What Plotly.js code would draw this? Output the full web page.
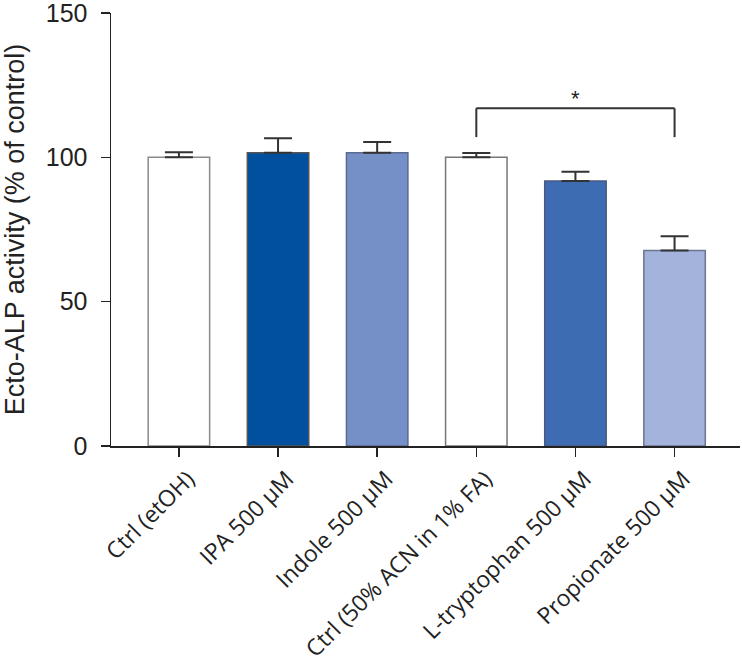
<!DOCTYPE html>
<html>
<head>
<meta charset="utf-8">
<script src="https://cdn.plot.ly/plotly-3.0.1.min.js"></script>
<style>html,body{margin:0;padding:0;background:#fff;}#chart{width:742px;height:663px;}</style>
</head>
<body>
<div id="chart"></div>
<script>
const categories = ["Ctrl (etOH)", "IPA 500 µM", "Indole 500 µM", "Ctrl (50% ACN in 1% FA)", "L-tryptophan 500 µM", "Propionate 500 µM"];
const values = [100, 101.6, 101.6, 100, 91.8, 67.7];
const errors = [1.8, 5.0, 3.7, 1.5, 3.2, 5.0];
const barColors = ["#ffffff", "#00509f", "#758fc7", "#ffffff", "#3d6cb3", "#a4b3db"];
const outlineColors = ["#8a8a8a", "#555555", "#5a6a90", "#777777", "#4a5a80", "#6a7590"];
const yTicks = [0, 50, 100, 150];
const sigPair = [3, 5];
const sigLevel = 117;
const sigDrop = 107;
const sigLabel = "*";

const trace = {
  type: "bar",
  x: categories,
  y: values,
  width: 0.62,
  marker: {color: barColors, line: {color: outlineColors, width: 1.5}},
  error_y: {type: "data", array: errors, arrayminus: errors.map(() => 0), symmetric: false,
            color: "#333333", thickness: 2, width: 14},
  hoverinfo: "none"
};

const layout = {
  width: 742, height: 663,
  margin: {l: 111, r: 2, t: 13, b: 217},
  paper_bgcolor: "#ffffff", plot_bgcolor: "#ffffff",
  showlegend: false,
  font: {family: "Liberation Sans, Arial, sans-serif", color: "#222"},
  xaxis: {
    type: "category",
    range: [-0.685, 5.66],
    showline: true, linecolor: "#222", linewidth: 1.5,
    ticks: "outside", ticklen: 9, tickwidth: 1.5, tickcolor: "#222",
    tickangle: -45,
    ticklabelshift: 9,
    tickfont: {family: "Open Sans, sans-serif", size: 23, color: "#222"},
    showgrid: false, zeroline: false, fixedrange: true
  },
  yaxis: {
    range: [0, 150],
    tickvals: yTicks,
    ticktext: yTicks.map(String),
    showline: true, linecolor: "#222", linewidth: 1.5,
    ticks: "outside", ticklen: 9, tickwidth: 1.5, tickcolor: "#222",
    ticklabelstandoff: 8,
    ticklabeloverflow: "allow",
    tickfont: {family: "Liberation Sans, Arial, sans-serif", size: 25, color: "#222"},
    title: {text: "Ecto-ALP activity (% of control)", font: {family: "Liberation Sans, Arial, sans-serif", size: 27, color: "#222"}, standoff: 14},
    showgrid: false, zeroline: false, fixedrange: true
  },
  shapes: [
    {type: "line", xref: "x", yref: "y", x0: categories[sigPair[0]], x1: categories[sigPair[0]], y0: sigDrop, y1: sigLevel, line: {color: "#333", width: 2}},
    {type: "line", xref: "x", yref: "y", x0: categories[sigPair[0]], x1: categories[sigPair[1]], y0: sigLevel, y1: sigLevel, line: {color: "#333", width: 2}},
    {type: "line", xref: "x", yref: "y", x0: categories[sigPair[1]], x1: categories[sigPair[1]], y0: sigDrop, y1: sigLevel, line: {color: "#333", width: 2}}
  ],
  annotations: [
    {xref: "x", yref: "y", x: 4, y: sigLevel, text: sigLabel, showarrow: false, yanchor: "bottom", yshift: -5,
     font: {family: "Liberation Sans, Arial, sans-serif", size: 22, color: "#222"}}
  ]
};

Plotly.newPlot("chart", [trace], layout, {displayModeBar: false, staticPlot: true});
</script>
</body>
</html>
